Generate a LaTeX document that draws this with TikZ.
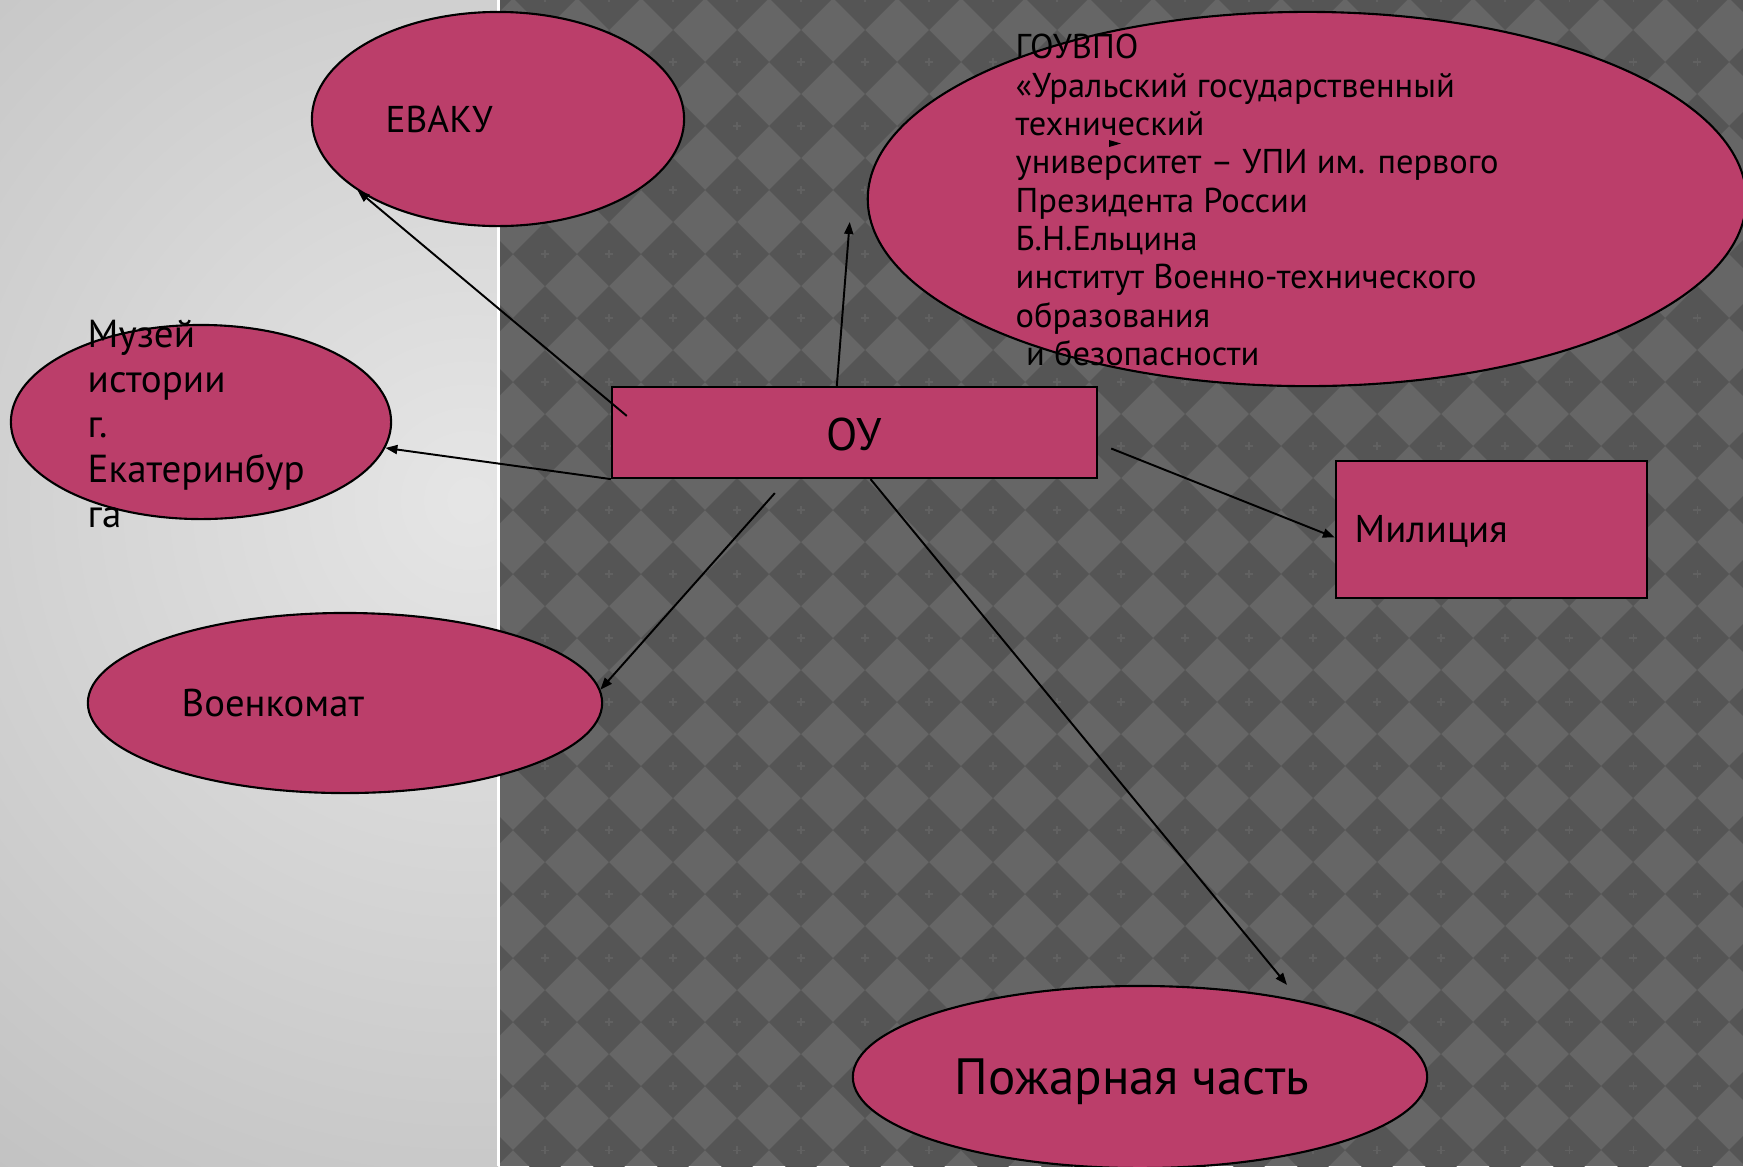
\documentclass[tikz,border=0pt]{standalone}
\usepackage{fontspec}
\setmainfont{PT Sans}
\usetikzlibrary{shapes.geometric,arrows.meta}
\definecolor{rose}{HTML}{BB3E6A}
\definecolor{tileDark}{HTML}{555555}
\definecolor{tileLight}{HTML}{666666}
\definecolor{tileMark}{HTML}{616161}
\tikzset{
  blob/.style={ellipse, draw=black, line width=0.6pt, fill=rose, inner sep=0pt},
  box/.style={rectangle, draw=black, line width=0.6pt, fill=rose, inner sep=0pt},
  word/.style={inner sep=0pt, align=left},
  link/.style={-{Triangle[length=1.2mm,width=0.9mm]}, line width=0.55pt}
}
\begin{document}
\begin{tikzpicture}[x=0.01cm, y=-0.01cm]
	\useasboundingbox (0,0) rectangle (1743,1166);
	% left panel
	\begin{scope}
		\clip (0,0) rectangle (498,1166);
		\shade[inner color=gray!20, outer color=gray!64] (470,500) circle (1300);
	\end{scope}
	\fill[white] (497,0) rectangle (500,1166);
	% right panel with diamonds
	\begin{scope}
		\clip (500,0) rectangle (1743,1166);
		\fill[tileLight] (500,0) rectangle (1743,1166);
		\foreach \i in {-1,...,19}
			\foreach \j in {-1,...,17} {
				\fill[tileDark] (545+64*\i,62+64*\j) +(-32,0) -- +(0,-32) -- +(32,0) -- +(0,32) -- cycle;
				\draw[tileMark, line width=0.3pt] (545+64*\i,62+64*\j) +(-4,0) -- +(4,0) +(0,-4) -- +(0,4);
			}
	\end{scope}
	
	\node[blob, minimum width=3.72cm, minimum height=2.14cm] (evaku) at (498,119) {};
	\node[blob, minimum width=8.78cm, minimum height=3.74cm] (univ) at (1307,199) {};
	\node[blob, minimum width=3.80cm, minimum height=1.94cm] (museum) at (201,422) {};
	\node[blob, minimum width=5.14cm, minimum height=1.80cm] (voenk) at (345,703) {};
	\node[blob, minimum width=5.74cm, minimum height=1.82cm] (fire) at (1140,1077) {};
	\node[box, minimum width=4.85cm, minimum height=0.91cm] (ou) at (854.5,432.5) {};
	\node[box, minimum width=3.11cm, minimum height=1.37cm] (police) at (1491.5,529.5) {};
	
	\node[word, anchor=west, font=\fontsize{10.6}{13}\selectfont] (evakutext) at (385,119) {ЕВАКУ};
	\node[word, anchor=west, font=\fontsize{9.8}{10.9}\selectfont] (univtext) at (1015,200) {ГОУВПО\\«Уральский государственный\\технический\\университет – УПИ им. первого\\Президента России\\Б.Н.Ельцина\\институт Военно-технического\\образования\\\hspace{0.3em}и безопасности};
	\node[word, anchor=west, font=\fontsize{11.1}{12.8}\selectfont] (museumtext) at (87,424) {Музей\\истории\\г.\\Екатеринбур\\га};
	\node[word, anchor=west, font=\fontsize{11}{13}\selectfont] (voenktext) at (181,703) {Военкомат};
	\node[word, font=\fontsize{13}{15}\selectfont] (outext) at (854,434) {ОУ};
	\node[word, anchor=west, font=\fontsize{11}{13}\selectfont] (policetext) at (1354,531) {Милиция};
	\node[word, font=\fontsize{14.5}{17}\selectfont] (firetext) at (1132,1082) {Пожарная часть};
	
	\draw[link] ([shift={(16,30)}]ou.north west) -- (evaku.207);
	\draw[link] ([shift={(226,0)}]ou.north west) -- ([shift={(-17,23)}]univ.west);
	\draw[link] (ou.south west) -- (museum.352);
	\draw[link] ([shift={(164,14)}]ou.south west) -- (voenk.3);
	\draw[link] ([shift={(13,16)}]ou.east) -- ([shift={(0,8)}]police.west);
	\draw[link] ([shift={(16,0)}]ou.south) -- ([shift={(147,0)}]fire.north);
	\fill (1109,140) -- (1121,143.5) -- (1109,147) -- cycle;
	
\end{tikzpicture}
\end{document}
